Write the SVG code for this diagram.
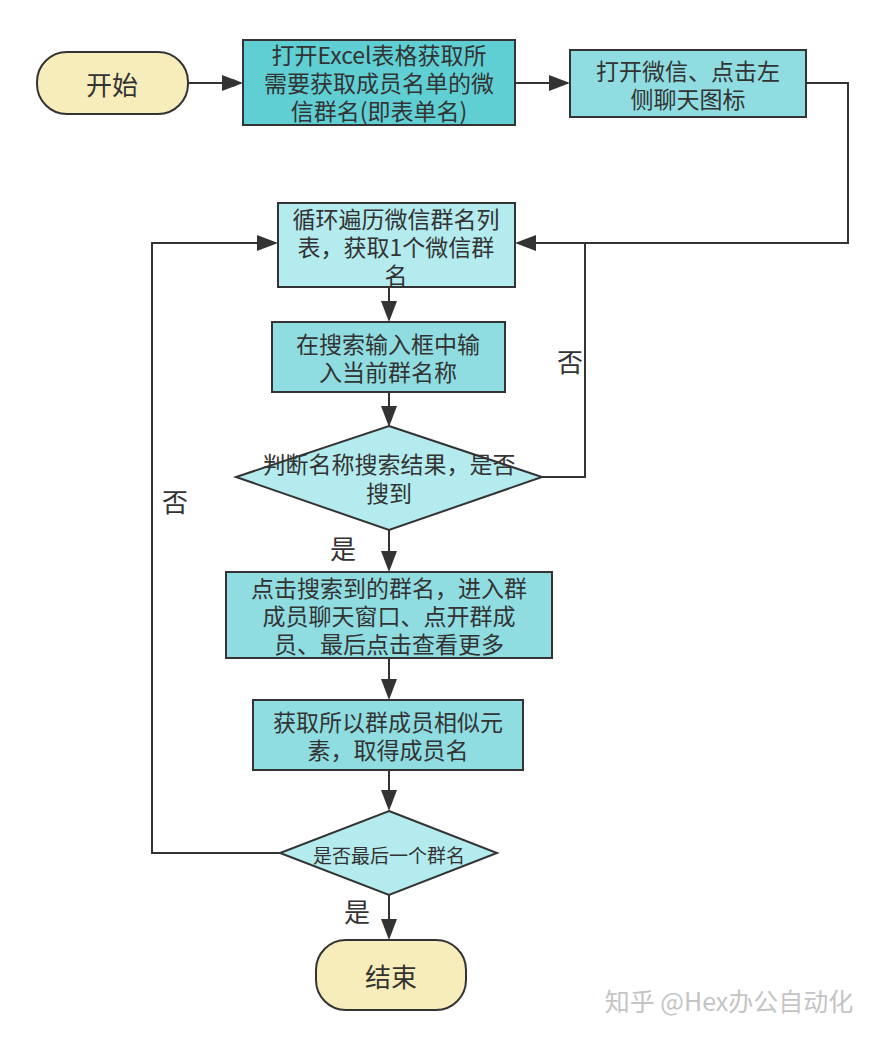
<svg xmlns="http://www.w3.org/2000/svg" width="886" height="1037" viewBox="0 0 886 1037">
<defs>
<marker id="ah" viewBox="0 0 10 10" refX="10" refY="5" markerWidth="8" markerHeight="8" markerUnits="userSpaceOnUse" orient="auto">
<path d="M0,0 L10,5 L0,10 Z" fill="#333"/>
</marker>
<style>
.t{font-family:"Microsoft YaHei","Noto Sans CJK SC",sans-serif;fill:#333;text-anchor:middle;dominant-baseline:central}
.b{font-size:23px}
.n{stroke:#333;stroke-width:2}
.term{fill:#f7edbb}
.c1{fill:#5fcfd4}
.c2{fill:#8fdde1}
.c3{fill:#b3ebee}
.ln{fill:none;stroke:#333;stroke-width:2}
.lb{font-size:26px}
</style>
</defs>
<rect width="886" height="1037" fill="#fff"/>
<g id="connectors">
<path class="ln" d="M188,83 H241" marker-end="url(#ah)" style="stroke-width:2"/>
<path class="ln" d="M515,83 H568"/>
<path d="M549,75 L570,83 L549,91 Z" fill="#333"/>
<path d="M222,75 L243,83 L222,91 Z" fill="#333"/>
<path class="ln" d="M806,83 H848 V243 H520"/>
<path d="M536,235 L515,243 L536,251 Z" fill="#333"/>
<path class="ln" d="M542,477 H585 V243"/>
<path class="ln" d="M280,853 H152 V243 H260"/>
<path d="M257,235 L278,243 L257,251 Z" fill="#333"/>
<path class="ln" d="M389,287 V305"/>
<path d="M381,301 L389,322 L397,301 Z" fill="#333"/>
<path class="ln" d="M389,392 V410"/>
<path d="M381,406 L389,427 L397,406 Z" fill="#333"/>
<path class="ln" d="M389,530 V556"/>
<path d="M381,551 L389,572 L397,551 Z" fill="#333"/>
<path class="ln" d="M389,658 V684"/>
<path d="M381,679 L389,700 L397,679 Z" fill="#333"/>
<path class="ln" d="M389,770 V795"/>
<path d="M381,790 L389,811 L397,790 Z" fill="#333"/>
<path class="ln" d="M389,895 V924"/>
<path d="M381,919 L389,940 L397,919 Z" fill="#333"/>
<text class="t lb" x="570" y="360">否</text>
<text class="t lb" x="175" y="500">否</text>
<text class="t lb" x="343" y="547">是</text>
<text class="t lb" x="357" y="910">是</text>
</g>
<g id="start">
<rect class="n term" x="37" y="52" width="151" height="62" rx="30"/>
<text class="t" x="112" y="83" font-size="26">开始</text>
</g>
<g id="box1">
<rect class="n c1" x="243" y="40" width="272" height="85"/>
<text class="t b" x="379" y="54">打开Excel表格获取所</text>
<text class="t b" x="379" y="82">需要获取成员名单的微</text>
<text class="t b" x="379" y="110">信群名(即表单名)</text>
</g>
<g id="box2">
<rect class="n c2" x="570" y="50" width="236" height="67"/>
<text class="t b" x="688" y="70">打开微信、点击左</text>
<text class="t b" x="688" y="98">侧聊天图标</text>
</g>
<g id="box3">
<rect class="n c3" x="278" y="203" width="237" height="84"/>
<text class="t b" x="396" y="218">循环遍历微信群名列</text>
<text class="t b" x="396" y="246">表，获取1个微信群</text>
<text class="t b" x="396" y="274">名</text>
</g>
<g id="box4">
<rect class="n c2" x="272" y="322" width="233" height="70"/>
<text class="t b" x="388" y="343">在搜索输入框中输</text>
<text class="t b" x="388" y="371">入当前群名称</text>
</g>
<g id="decision1">
<polygon class="n c3" points="389,426 542,477 389,530 236,477"/>
<text class="t b" x="389" y="463">判断名称搜索结果，是否</text>
<text class="t b" x="389" y="492">搜到</text>
</g>
<g id="box5">
<rect class="n c2" x="226" y="572" width="326" height="86"/>
<text class="t b" x="389" y="587">点击搜索到的群名，进入群</text>
<text class="t b" x="389" y="615">成员聊天窗口、点开群成</text>
<text class="t b" x="389" y="643">员、最后点击查看更多</text>
</g>
<g id="box6">
<rect class="n c2" x="253" y="700" width="270" height="70"/>
<text class="t b" x="388" y="721">获取所以群成员相似元</text>
<text class="t b" x="388" y="749">素，取得成员名</text>
</g>
<g id="decision2">
<polygon class="n c3" points="389,811 497,853 389,895 280,853"/>
<text class="t" x="389" y="854" font-size="19">是否最后一个群名</text>
</g>
<g id="end">
<rect class="n term" x="316" y="940" width="150" height="70" rx="30"/>
<text class="t" x="391" y="975" font-size="26">结束</text>
</g>
<text class="t" x="729" y="1000" font-size="25" style="fill:#c4c4c4">知乎 @Hex办公自动化</text>
</svg>
